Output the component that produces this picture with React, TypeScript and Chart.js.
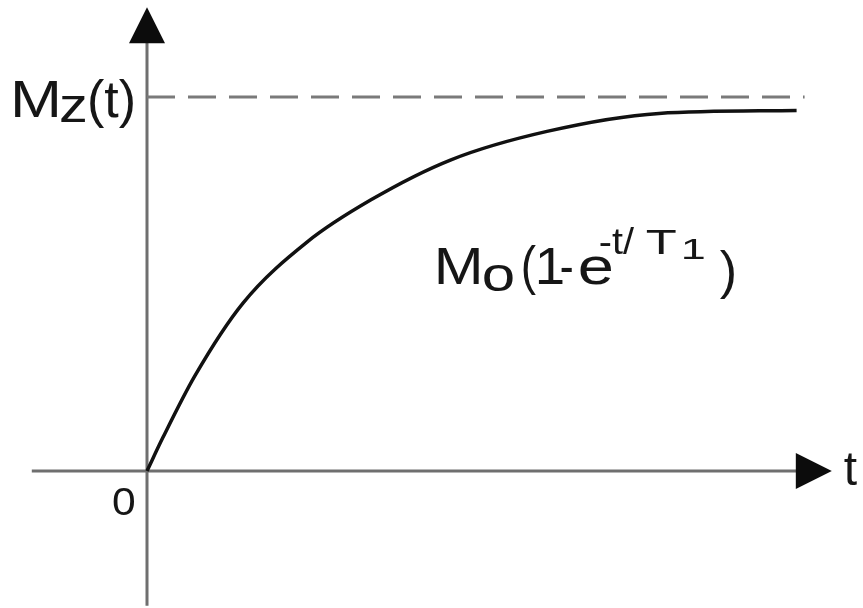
import React, { useEffect, useRef } from "react";
import { Chart, registerables } from "chart.js";

Chart.register(...registerables);

// Recovery curve Mz(t) = M0(1 - e^{-t/T1}), t in units of T1, M in units of M0
const T_VALUES = [0, 0.1, 0.3, 0.6, 1.0, 1.4, 1.9, 2.5, 3.2, 4.06];
const M_VALUES = [0, 0.09, 0.255, 0.449, 0.612, 0.725, 0.832, 0.908, 0.956, 0.964];

// Equilibrium level (dashed) and its extent along t
const M_EQUILIBRIUM = 1;
const EQUILIBRIUM_T = [0, 4.11];

// Axis extents in data units (arrow tips at the upper ends)
const T_AXIS = [-0.72, 4.28];
const M_AXIS = [-0.36, 1.24];

const FONT = '"Liberation Sans", Arial, sans-serif';
const INK = "#161616";
const AXIS_GREY = "#6f6f6f";

type Piece = { text: string; dx: number; dy: number; size: number; sx: number };

function drawPieces(ctx: CanvasRenderingContext2D, ax: number, ay: number, pieces: Piece[]) {
  for (const p of pieces) {
    ctx.save();
    ctx.translate(ax + p.dx, ay + p.dy);
    ctx.scale(p.sx, 1);
    ctx.font = `${p.size}px ${FONT}`;
    ctx.fillStyle = INK;
    ctx.textAlign = "left";
    ctx.textBaseline = "alphabetic";
    ctx.fillText(p.text, 0, 0);
    ctx.restore();
  }
}

const axesPlugin = {
  id: "arrowAxes",
  beforeDatasetsDraw(chart: any) {
    const { ctx, scales } = chart;
    const x = scales.x;
    const y = scales.y;
    const ox = x.getPixelForValue(0);
    const oy = y.getPixelForValue(0);
    const xTip = x.getPixelForValue(T_AXIS[1]);
    const yTip = y.getPixelForValue(M_AXIS[1]);
    const head = 36;
    const half = 18;
    ctx.save();
    ctx.strokeStyle = AXIS_GREY;
    ctx.lineWidth = 3;
    ctx.beginPath();
    ctx.moveTo(x.getPixelForValue(T_AXIS[0]), oy);
    ctx.lineTo(xTip - head + 2, oy);
    ctx.moveTo(ox, y.getPixelForValue(M_AXIS[0]));
    ctx.lineTo(ox, yTip + head - 2);
    ctx.stroke();
    ctx.fillStyle = "#0c0c0c";
    ctx.beginPath();
    ctx.moveTo(xTip, oy);
    ctx.lineTo(xTip - head, oy - half);
    ctx.lineTo(xTip - head, oy + half);
    ctx.closePath();
    ctx.fill();
    ctx.beginPath();
    ctx.moveTo(ox, yTip);
    ctx.lineTo(ox - half, yTip + head);
    ctx.lineTo(ox + half, yTip + head);
    ctx.closePath();
    ctx.fill();
    ctx.restore();
  },
  afterDraw(chart: any) {
    const { ctx, scales } = chart;
    const x = scales.x;
    const y = scales.y;
    const ox = x.getPixelForValue(0);
    const oy = y.getPixelForValue(0);
    const eqY = y.getPixelForValue(M_EQUILIBRIUM);
    const xTip = x.getPixelForValue(T_AXIS[1]);

    // Mz(t) at the equilibrium level
    drawPieces(ctx, ox, eqY, [
      { text: "M", dx: -137, dy: 20, size: 52, sx: 1.2 },
      { text: "z", dx: -88, dy: 25, size: 48, sx: 1.2 },
      { text: "(t)", dx: -60, dy: 20, size: 52, sx: 1.0 },
    ]);

    // origin and time axis labels
    drawPieces(ctx, ox, oy, [{ text: "0", dx: -35, dy: 44, size: 38, sx: 1.12 }]);
    drawPieces(ctx, xTip, oy, [{ text: "t", dx: 12, dy: 14, size: 48, sx: 1.0 }]);

    // formula beside the curve
    const fx = x.getPixelForValue(1.83);
    const fy = y.getPixelForValue(0.5);
    drawPieces(ctx, fx, fy, [
      { text: "M", dx: -6, dy: 0, size: 52, sx: 1.15 },
      { text: "o", dx: 42, dy: 7, size: 48, sx: 1.25 },
      { text: "(", dx: 81, dy: 0, size: 54, sx: 0.85 },
      { text: "1", dx: 95, dy: 0, size: 52, sx: 1.05 },
      { text: "-", dx: 120, dy: 0, size: 52, sx: 0.8 },
      { text: "e", dx: 138, dy: 0, size: 52, sx: 1.25 },
      { text: "-t/", dx: 159, dy: -30, size: 36, sx: 1.1 },
      { text: "T", dx: 206, dy: -30, size: 35, sx: 1.45 },
      { text: "1", dx: 241, dy: -25, size: 30, sx: 1.5 },
      { text: ")", dx: 280, dy: 4, size: 52, sx: 1.0 },
    ]);
  },
};

export default function App() {
  const canvasRef = useRef<HTMLCanvasElement | null>(null);

  useEffect(() => {
    const canvas = canvasRef.current;
    if (!canvas) return;
    const chart = new Chart(canvas, {
      type: "line",
      data: {
        datasets: [
          {
            label: "Mz(t)",
            data: T_VALUES.map((t, i) => ({ x: t, y: M_VALUES[i] })),
            borderColor: "#111111",
            borderWidth: 3.5,
            pointRadius: 0,
            cubicInterpolationMode: "monotone",
            fill: false,
          },
          {
            label: "M0",
            data: EQUILIBRIUM_T.map((t) => ({ x: t, y: M_EQUILIBRIUM })),
            borderColor: "#7a7a7a",
            borderWidth: 3,
            borderDash: [28, 13],
            pointRadius: 0,
            fill: false,
          },
        ],
      },
      options: {
        responsive: false,
        animation: false,
        devicePixelRatio: 1,
        layout: { padding: { left: 31.8, right: 31.2, top: 7.24, bottom: 2.36 } },
        scales: {
          x: { type: "linear", min: T_AXIS[0], max: T_AXIS[1], display: false },
          y: { type: "linear", min: M_AXIS[0], max: M_AXIS[1], display: false },
        },
        plugins: { legend: { display: false }, tooltip: { enabled: false } },
      },
      plugins: [axesPlugin],
    });
    return () => chart.destroy();
  }, []);

  return (
    <div style={{ position: "absolute", left: 0, top: 0, width: 863, height: 608, background: "#ffffff" }}>
      <canvas ref={canvasRef} width={863} height={608} />
    </div>
  );
}
